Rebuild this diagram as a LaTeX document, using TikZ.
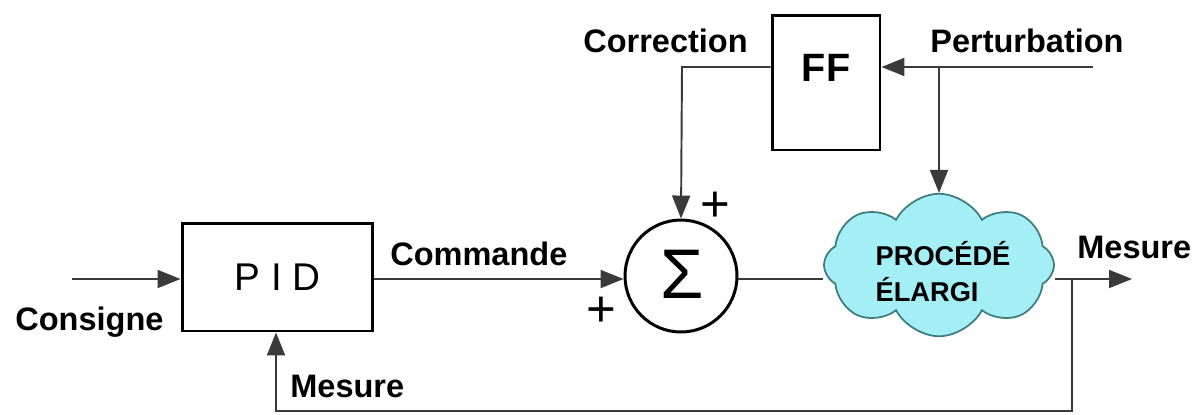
\documentclass[tikz,border=0pt]{standalone}
\usepackage{fontspec}
\setmainfont{Liberation Sans}
\usetikzlibrary{arrows.meta,positioning,shapes.symbols}
\definecolor{cloudcyan}{HTML}{A4EEF5}
\definecolor{cloudedge}{HTML}{3E7C80}
\definecolor{wiregray}{HTML}{3A3A3A}

\begin{document}
\begin{tikzpicture}[
  x=0.02cm, y=-0.02cm,
  block/.style={draw, line width=1.7pt, inner sep=0pt},
  lbl/.style={font=\fontsize{18.5}{20}\selectfont\bfseries, inner sep=0pt},
  sign/.style={font=\fontsize{29}{30}\selectfont, inner sep=0pt},
  wire/.style={draw=wiregray, line width=1.1pt},
  arr/.style={wire, -{Triangle[length=0.46cm, width=0.36cm]}},
]
\useasboundingbox (0,0) rectangle (1203,414);

% Blocks
\node[block, minimum width=3.82cm, minimum height=2.16cm, font=\fontsize{22}{24}\selectfont] (pid) at (277.5,277) {P I D};
\node[block, minimum width=2.16cm, minimum height=2.7cm] (ff) at (826,82.5) {};
\node[font=\fontsize{22.5}{24}\selectfont\bfseries, inner sep=0pt] (fftext) at (ff.center |- 0,68) {FF};
\node[block, circle, minimum size=2.24cm] (sum) at (681,276) {};
\node[font=\fontsize{40}{42}\selectfont, inner sep=0pt] (sigma) at (682,274) {Σ};

% Process cloud
\node[cloud, cloud puffs=8, cloud puff arc=125, aspect=1.6, draw=cloudedge, line width=1pt, fill=cloudcyan,
  minimum width=4.6cm, minimum height=2.85cm, inner sep=0pt] (proc) at (939,265) {};
\node[font=\fontsize{15.5}{20.5}\selectfont\bfseries, align=left, inner sep=0pt] (proctext) at (943,272) {PROCÉDÉ\\ÉLARGI};

% Labels
\node[lbl, anchor=base west] (consigne) at (15,330) {Consigne};
\node[lbl, anchor=base west] (commande) at (390,265) {Commande};
\node[lbl, anchor=base west] (mesbot) at (290,397) {Mesure};
\node[lbl, anchor=base west] (correction) at (583,52) {Correction};
\node[lbl, anchor=base west] (perturb) at (930,52) {Perturbation};
\node[lbl, anchor=base west] (mesout) at (1077,258) {Mesure};
\node[sign] (plusleft) at (601,312) {+};
\node[sign] (plustop) at (715,207) {+};

% Free ends and corners
\coordinate (cin) at (72,279);
\coordinate (pin) at (1093,67);
\coordinate (pjoin) at (939,67);
\coordinate (cturn) at (682,67);
\coordinate (mout) at (1132,279);
\coordinate (mtap) at (1072,279);
\coordinate (mdown) at (1072,411);
\coordinate (mleft) at (276,411);

% Connectors
\draw[arr] (cin) -- (pid.west |- cin);
\draw[arr] (pid.east |- cin) -- (sum.west |- cin);
\draw[wire] (sum.east |- cin) -- (proc.west |- cin);
\draw[arr] (pin) -- (ff.east |- pin);
\draw[arr] (pjoin) -- (proc.north -| pjoin);
\draw[arr] (ff.west |- cturn) -- (cturn) -- (sum.north);
\draw[arr] (proc.east |- mout) -- (mout);
\draw[arr] (mtap) -- (mdown) -- (mleft) -- (pid.south -| mleft);

\end{tikzpicture}
\end{document}
